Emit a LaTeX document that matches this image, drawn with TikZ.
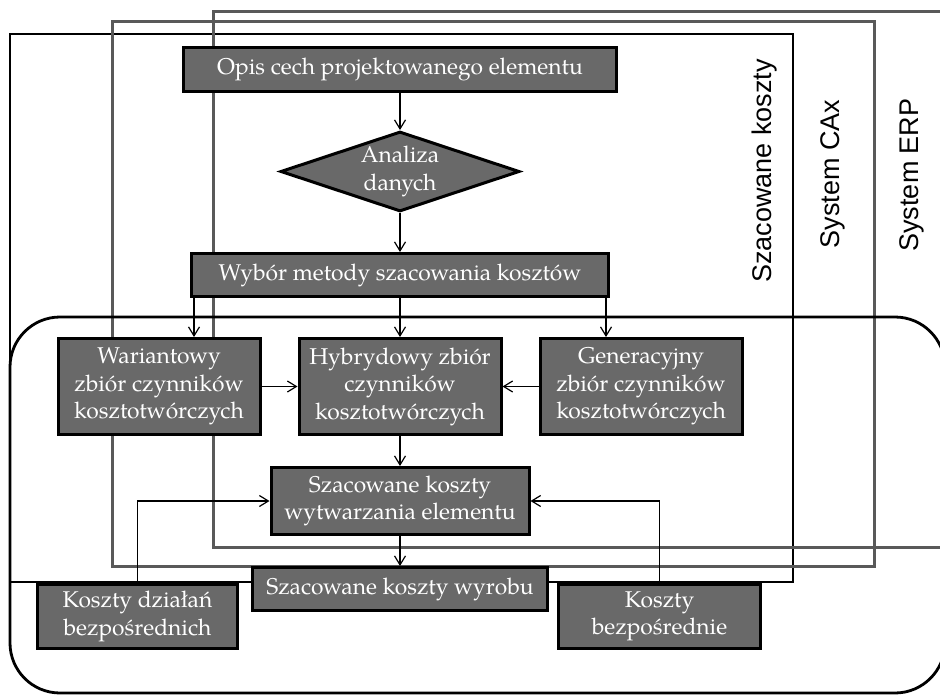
\documentclass[tikz,border=0pt]{standalone}
\usepackage{fontspec}
\setmainfont{TeX Gyre Pagella}
\setsansfont{Liberation Sans}
\usetikzlibrary{arrows.meta,positioning,shapes.geometric}
\definecolor{boxgray}{HTML}{696969}
\definecolor{framegray}{HTML}{595959}

\begin{document}
\begin{tikzpicture}[x=0.5pt,y=-0.5pt,on grid,
    >={Straight Barb[length=4.5pt,width=5.5pt]},
    every node/.style={font=\fontsize{11.4}{13.75}\selectfont}]
  \tikzstyle{nodeBox}=[rectangle,draw=black,line width=1.5pt,fill=boxgray,text=white,align=center,inner sep=0pt]
  \tikzstyle{nodeDia}=[diamond,aspect=2.9,draw=black,line width=1.5pt,fill=boxgray,text=white,align=center,inner sep=0pt,minimum width=119.5pt,minimum height=40pt]
  \tikzstyle{frameB}=[draw=black,line width=1.4pt]
  \tikzstyle{frameG}=[draw=framegray,line width=1.5pt]
  \tikzstyle{side}=[font=\sffamily\fontsize{13.5}{16}\selectfont,rotate=90]
  \tikzstyle{link}=[->,line width=0.6pt]

  \useasboundingbox (0,0) rectangle (940,695);
  \clip (0,0) rectangle (940,695);

  % Frames
  \draw[frameB] (10,34) rectangle (793,582);
  \draw[frameG] (112,22) rectangle (874,566);
  \draw[frameG] (213,12) rectangle (960,547);
  \draw[frameB,rounded corners=25pt] (10,317) rectangle (945,693);

  \node[side] (lKoszty) at (765,171) {Szacowane koszty};
  \node[side] (lCax)    at (833,174) {System CAx};
  \node[side] (lErp)    at (912,175) {System ERP};

  % Flow
  \node[nodeBox, minimum width=216.5pt, minimum height=22pt] (opis) at (400,69.5) {Opis cech projektowanego elementu};
  \node[nodeDia] (analiza) [below=51pt of opis] {Analiza\\danych};
  \node[nodeBox, minimum width=208.5pt, minimum height=21.5pt] (wybor) [below=51.75pt of analiza] {Wybór metody szacowania kosztów};
  \node[nodeBox, minimum width=101pt, minimum height=48pt] (hybryd) [below=55.75pt of wybor] {Hybrydowy zbiór\\czynników\\kosztotwórczych};
  \node[nodeBox, minimum width=101pt, minimum height=48pt] (wariant) [left=120.5pt of hybryd] {Wariantowy\\zbiór czynników\\kosztotwórczych};
  \node[nodeBox, minimum width=101pt, minimum height=48pt] (generac) [right=120.5pt of hybryd] {Generacyjny\\zbiór czynników\\kosztotwórczych};
  \node[nodeBox, minimum width=129pt, minimum height=33.5pt] (wytw) [below=57.25pt of hybryd] {Szacowane koszty\\wytwarzania elementu};
  \node[nodeBox, minimum width=147.5pt, minimum height=21.5pt] (wyrob) [below=44pt of wytw] {Szacowane koszty wyrobu};
  \node[nodeBox, minimum width=100pt, minimum height=32pt] (dzialan) at (137.5,616.5) {Koszty działań\\bezpośrednich};
  \node[nodeBox, minimum width=101pt, minimum height=32pt] (bezp) at (659.5,616.5) {Koszty\\bezpośrednie};

  \coordinate (wybL) at ([xshift=2pt]wybor.south west);
  \coordinate (wybR) at ([xshift=-2pt]wybor.south east);

  \draw[link] (opis) -- (analiza);
  \draw[link] (analiza) -- (wybor);
  \draw[link] (wybL) -- (wybL |- wariant.north);
  \draw[link] (wybor) -- (hybryd);
  \draw[link] (wybR) -- (wybR |- generac.north);
  \draw[link] (wariant) -- (hybryd);
  \draw[link] (generac) -- (hybryd);
  \draw[link] (hybryd) -- (wytw);
  \draw[link] (wytw) -- (wyrob);
  \draw[link] (dzialan.north) |- (wytw.west);
  \draw[link] (bezp.north) |- (wytw.east);
\end{tikzpicture}
\end{document}
